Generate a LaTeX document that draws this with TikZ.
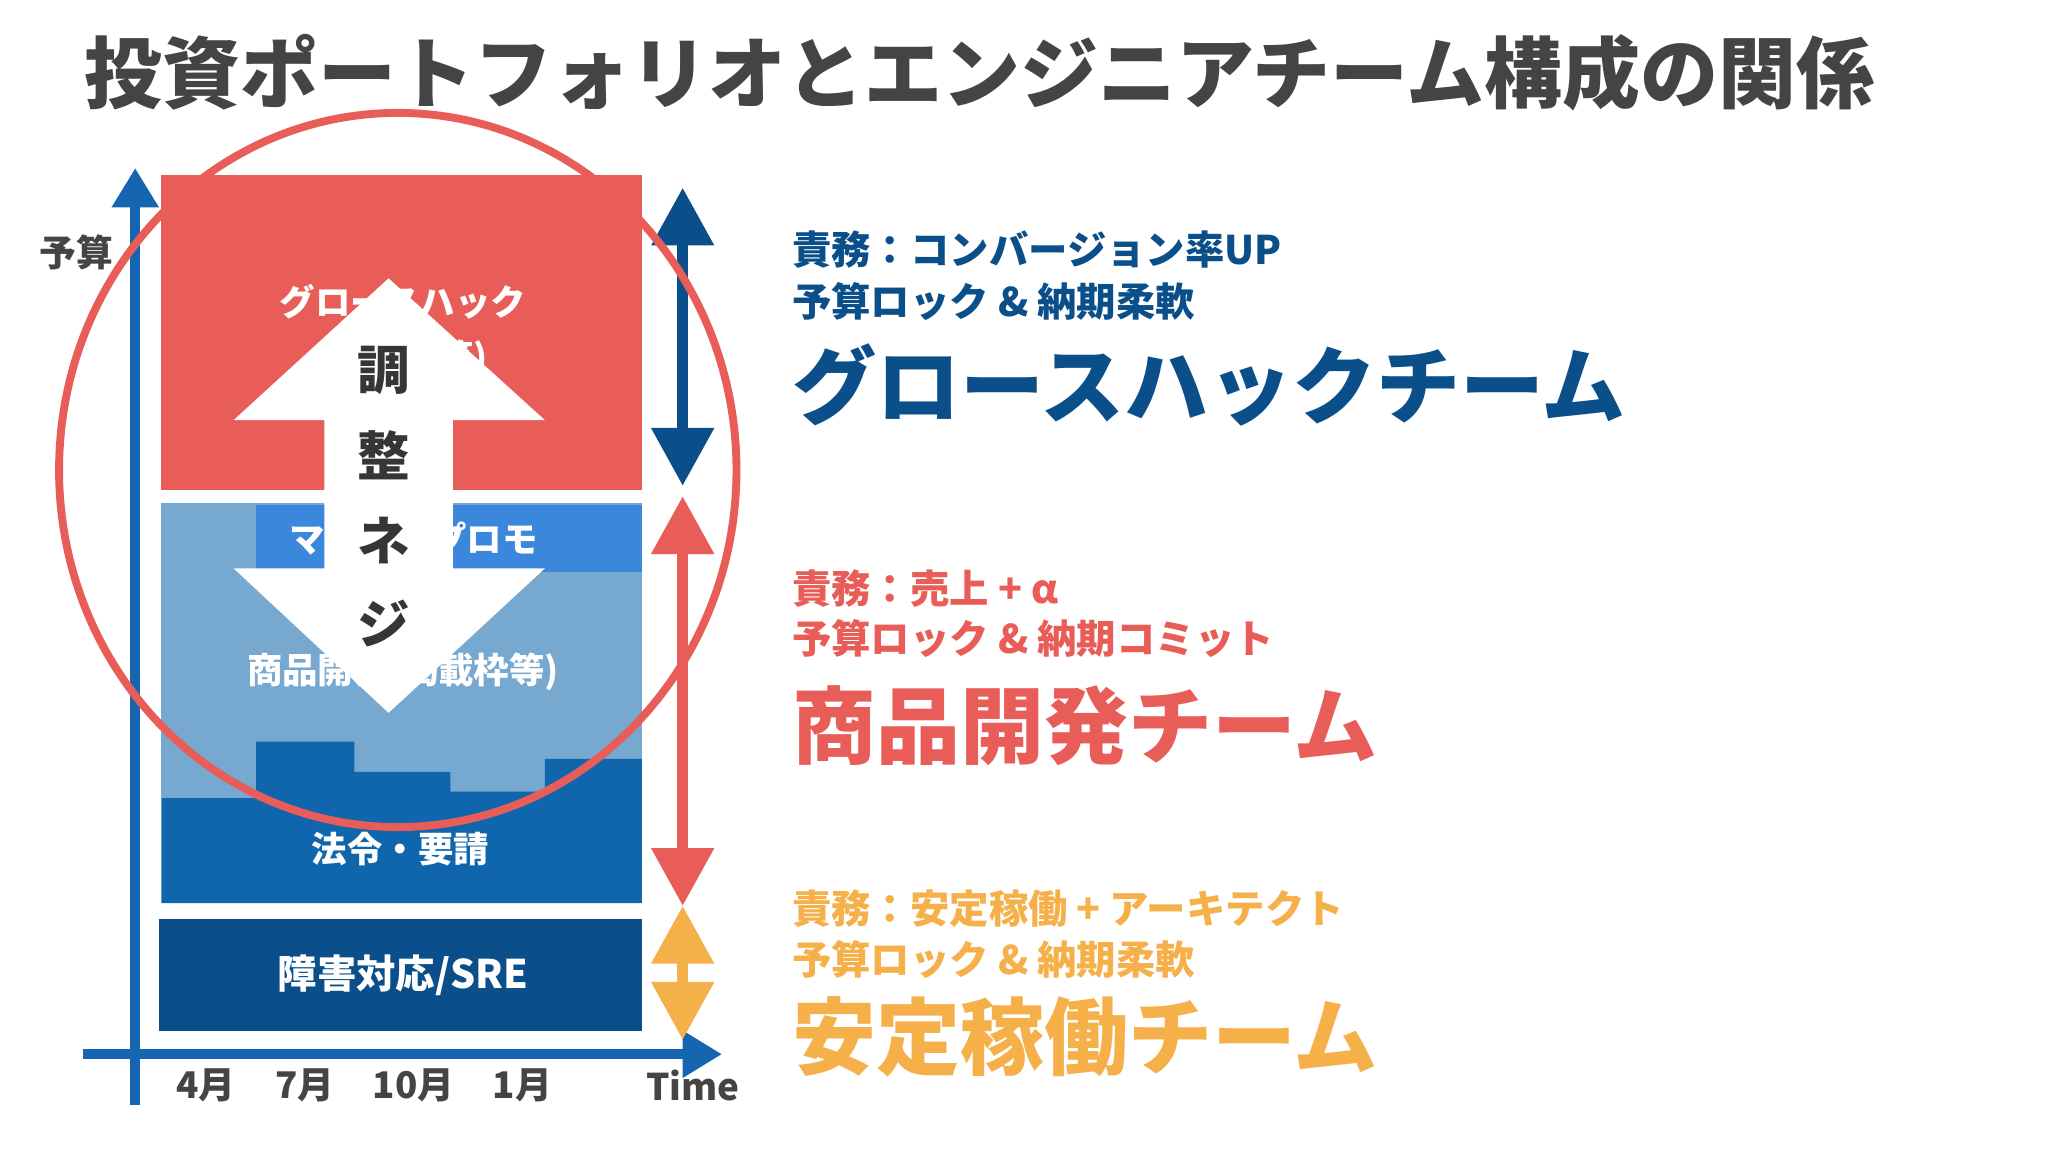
\documentclass[tikz,border=0pt]{standalone}
\usepackage{fontspec}
\setmainfont{Noto Sans CJK JP}
\usetikzlibrary{arrows.meta}
\definecolor{gred}{HTML}{E85D58}
\definecolor{lblue}{HTML}{76A8D0}
\definecolor{mblue}{HTML}{3B87DB}
\definecolor{dblue}{HTML}{0F66AD}
\definecolor{navy}{HTML}{0B4F8A}
\definecolor{axis}{HTML}{1565B0}
\definecolor{orng}{HTML}{F6B04A}
\definecolor{gry}{HTML}{444444}
\newcommand{\fs}[1]{\fontsize{#1}{#1}\selectfont\bfseries}
\begin{document}
\begin{tikzpicture}[x=0.5pt,y=-0.5pt,
  lbl/.style={text=white,font=\fs{13.5}},
  side/.style={anchor=west,inner sep=0pt,font=\fs{15}},
  team/.style={anchor=west,inner sep=0pt,font=\fs{32}},
  dbl/.style={line width=4pt,{Triangle[width=23pt,length=22pt]}-{Triangle[width=23pt,length=22pt]}},
  ax/.style={axis,line width=4pt,-{Triangle[width=17pt,length=15pt]}}]
\useasboundingbox[fill=white] (0,0) rectangle (1560,877.5);
\node[anchor=west,inner sep=0pt,text=gry,font=\fs{29.7}] (title) at (64,55) {投資ポートフォリオとエンジニアチーム構成の関係};
% boxes
\fill[gred] (123,133) rectangle (489,373);
\node[lbl] (gh) at (307,230) {グロースハック};
\node[lbl] (gh2) at (307,273) {(新機能等)};
\fill[lblue] (123,383) rectangle (489,608);
\fill[mblue] (195,385) rectangle (489,436);
\node[lbl] (mk) at (315,410) {マーケ・プロモ};
\node[lbl] (sh) at (307,512) {商品開発(掲載枠等)};
\fill[dblue] (123,688) -- (123,608) -- (195,608) -- (195,565) -- (270,565) -- (270,588) -- (343,588) -- (343,603) -- (415,603) -- (415,578) -- (489,578) -- (489,688) -- cycle;
\node[lbl] (hr) at (305,647) {法令・要請};
\fill[navy] (121,700) rectangle (489,785);
\node[lbl,font=\fs{15}] (sre) at (307,743) {障害対応/SRE};
% axes
\coordinate (y0) at (103,842);
\coordinate (y1) at (103,128);
\coordinate (x0) at (63,803);
\coordinate (x1) at (550,803);
\draw[ax] (y0) -- (y1);
\draw[ax] (x0) -- (x1);
\node[text=gry,font=\fs{14}] (yb) at (58,192) {予算};
\foreach \n/\x/\t in {m4/157/4月,m7/232/7月,m10/315/10月,m1/398/1月,tm/528/Time}
  \node[text=gry,font=\fs{14}] (\n) at (\x,827) {\t};
% side double arrows
\coordinate (a1) at (520,143); \coordinate (a2) at (520,370);
\coordinate (b1) at (520,378); \coordinate (b2) at (520,690);
\coordinate (c1) at (520,690); \coordinate (c2) at (520,792);
\draw[dbl,navy] (a1) -- (a2);
\draw[dbl,gred] (b1) -- (b2);
\draw[dbl,orng] (c1) -- (c2);
% circle
\draw[gred,line width=3pt] (303,358) ellipse [x radius=258, y radius=272];
% white double arrow
\fill[white] (296,212) -- (415,320) -- (345,320) -- (345,433) -- (415,433) -- (296,543) -- (178,433) -- (247,433) -- (247,320) -- (178,320) -- cycle;
\foreach \n/\y/\t in {k1/282/調,k2/347/整,k3/412/ネ,k4/475/ジ}
  \node[text=gry!80!black,font=\fs{20}] (\n) at (292,\y) {\t};
% right texts
\node[side,text=navy] (r1) at (603,190) {責務：コンバージョン率UP};
\node[side,text=navy] (r2) at (603,230) {予算ロック \& 納期柔軟};
\node[team,text=navy] (r3) at (603,293) {グロースハックチーム};
\node[side,text=gred] (s1) at (603,448) {責務：売上 + α};
\node[side,text=gred] (s2) at (603,486) {予算ロック \& 納期コミット};
\node[team,text=gred] (s3) at (603,553) {商品開発チーム};
\node[side,text=orng] (t1) at (603,692) {責務：安定稼働 + アーキテクト};
\node[side,text=orng] (t2) at (603,731) {予算ロック \& 納期柔軟};
\node[team,text=orng] (t3) at (603,790) {安定稼働チーム};
\end{tikzpicture}
\end{document}
